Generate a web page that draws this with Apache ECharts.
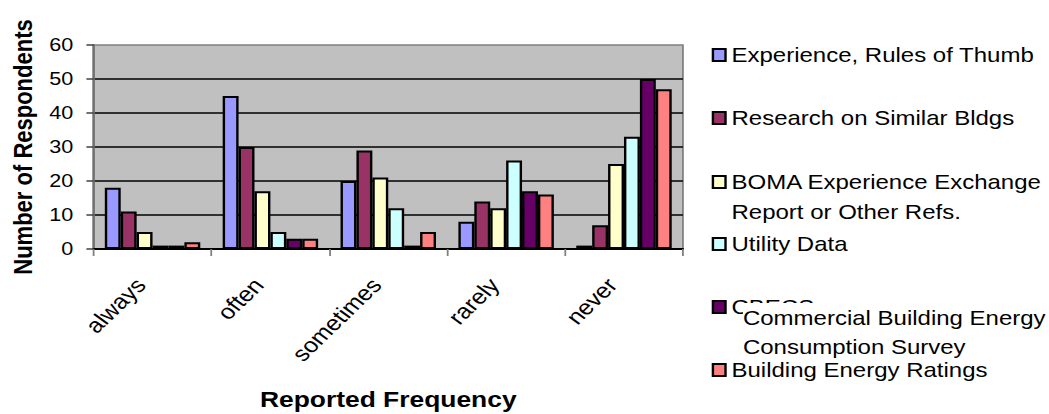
<!DOCTYPE html>
<html>
<head>
<meta charset="utf-8">
<script src="https://cdn.jsdelivr.net/npm/echarts@6/dist/echarts.min.js"></script>
<style>
html,body{margin:0;padding:0;background:#fff;overflow:hidden;}
#wrap{width:1049px;height:414px;overflow:hidden;}
#chart{width:874px;height:414px;transform:scaleX(1.2002);transform-origin:0 0;}
</style>
</head>
<body>
<div id="wrap"><div id="chart"></div></div>
<script>
const categories = ['always', 'often', 'sometimes', 'rarely', 'never'];
const seriesNames = [
  'Experience, Rules of Thumb',
  'Research on Similar Bldgs',
  'BOMA Experience Exchange Report or Other Refs.',
  'Utility Data',
  'CBECS',
  'Building Energy Ratings'
];
const experience = [18, 45, 20, 8, 1];
const research = [11, 30, 29, 14, 7];
const boma = [5, 17, 21, 12, 25];
const utility = [1, 5, 12, 26, 33];
const cbecs = [1, 3, 1, 17, 50];
const ratings = [2, 3, 5, 16, 47];
const colors = ['#9999FF', '#993366', '#FFFFCC', '#CCFFFF', '#660066', '#FF8080'];
const yTitle = 'Number of Respondents';
const xTitle = 'Reported Frequency';
const cbecsNote = 'Commercial Building Energy\nConsumption Survey';

const FONT = "'Liberation Sans', Arial, sans-serif";
const values = [experience, research, boma, utility, cbecs, ratings];
const legendTops = [45, 108, 137, 234, 297, 360];

const chart = echarts.init(document.getElementById('chart'), null, {renderer: 'svg'});

const legends = seriesNames.map((n, i) => {
  const lg = {
    data: [n],
    orient: 'vertical',
    left: 593,
    top: legendTops[i],
    padding: 0,
    itemWidth: 10.5,
    itemHeight: 12,
    icon: 'rect',
    selectedMode: false,
    textStyle: {fontFamily: FONT, fontSize: 20, color: '#000'}
  };
  if (i === 2) {
    lg.formatter = () => '\u00a0\nBOMA Experience Exchange\nReport or Other Refs.';
    lg.textStyle = {fontFamily: FONT, fontSize: 20, color: '#000', lineHeight: 30};
  }
  return lg;
});

const option = {
  backgroundColor: '#fff',
  animation: false,
  textStyle: {fontFamily: FONT},
  legend: legends,
  grid: {
    left: 78, right: 305, top: 45, bottom: 165,
    show: true, backgroundColor: '#C0C0C0', borderColor: '#808080', borderWidth: 1.5,
    containLabel: false
  },
  xAxis: {
    type: 'category',
    data: categories,
    name: xTitle,
    nameLocation: 'middle',
    nameGap: 139,
    nameTextStyle: {fontFamily: FONT, fontSize: 22, fontWeight: 'bold', color: '#000'},
    axisLine: {show: true, lineStyle: {color: '#000', width: 2}},
    axisTick: {show: true, length: 7, lineStyle: {color: '#808080', width: 1.5}},
    axisLabel: {
      rotate: 49, margin: 21, fontFamily: FONT, fontSize: 21, color: '#000',
      padding: [0, 15, 0, 0], interval: 0
    },
    splitLine: {show: false}
  },
  yAxis: {
    type: 'value',
    min: 0, max: 60, interval: 10,
    name: yTitle,
    nameLocation: 'middle',
    nameRotate: 90,
    nameGap: 48,
    nameTextStyle: {fontFamily: FONT, fontSize: 22, fontWeight: 'bold', color: '#000'},
    axisLine: {show: true, lineStyle: {color: '#707070', width: 2}},
    axisTick: {show: true, length: 6, lineStyle: {color: '#404040', width: 1.5}},
    axisLabel: {margin: 17, fontFamily: FONT, fontSize: 18, color: '#000'},
    splitLine: {show: true, showMinLine: false, showMaxLine: false, lineStyle: {color: '#000', width: 1.5}}
  },
  graphic: [{
    type: 'text',
    left: 619,
    top: 303,
    z: 100,
    style: {
      text: cbecsNote,
      font: '20px ' + FONT,
      lineHeight: 29.5,
      fill: '#000',
      backgroundColor: '#fff',
      padding: [0, 4, 0, 0]
    }
  }],
  series: seriesNames.map((n, i) => ({
    name: n,
    type: 'bar',
    data: values[i],
    barGap: '0%',
    barCategoryGap: '19%',
    itemStyle: {color: colors[i], borderColor: '#000', borderWidth: 2},
    emphasis: {disabled: true}
  }))
};
chart.setOption(option);
</script>
</body>
</html>
